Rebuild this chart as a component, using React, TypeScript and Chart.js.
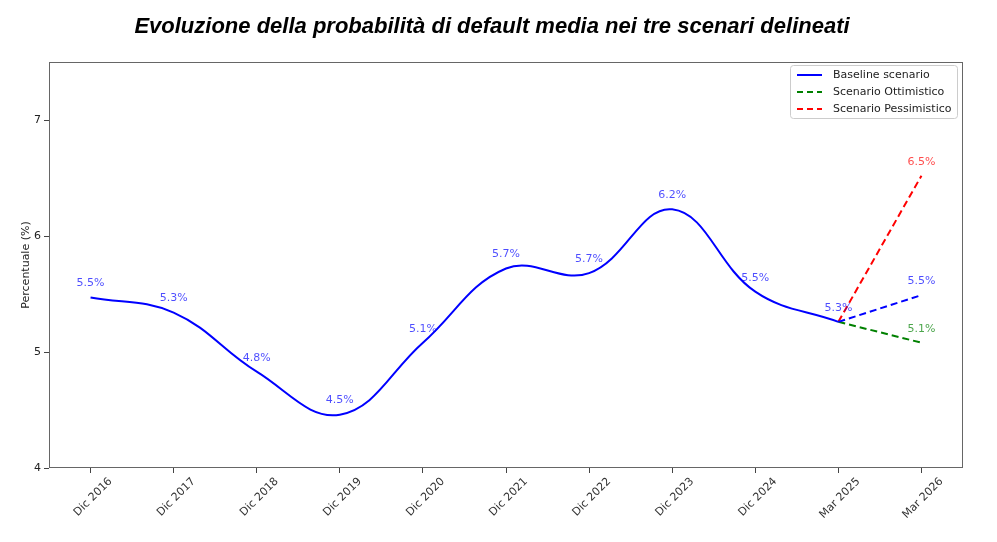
import React, { useEffect, useRef } from "react";
import { Chart, registerables } from "chart.js";

Chart.register(...registerables);

const categories = [
  "Dic 2016", "Dic 2017", "Dic 2018", "Dic 2019", "Dic 2020", "Dic 2021",
  "Dic 2022", "Dic 2023", "Dic 2024", "Mar 2025", "Mar 2026",
];
const baselineValues = [5.47, 5.34, 4.83, 4.46, 5.08, 5.72, 5.68, 6.23, 5.52, 5.26, null];
const baselineForecast = [null, null, null, null, null, null, null, null, null, 5.26, 5.49];
const optimisticValues = [null, null, null, null, null, null, null, null, null, 5.26, 5.08];
const pessimisticValues = [null, null, null, null, null, null, null, null, null, 5.26, 6.52];
const yTicks = [4, 5, 6, 7];
const titleText = "Evoluzione della probabilità di default media nei tre scenari delineati";
const yAxisTitle = "Percentuale (%)";
const legendItems = [
  { label: "Baseline scenario", color: "#0000ff", dash: [] as number[] },
  { label: "Scenario Ottimistico", color: "#008000", dash: [6, 4] },
  { label: "Scenario Pessimistico", color: "#ff0000", dash: [6, 4] },
];

const FONT = "'DejaVu Sans', sans-serif";

const framePlugin = {
  id: "frame",
  afterDraw(chart: any) {
    const { ctx, chartArea: a } = chart;
    ctx.save();
    ctx.strokeStyle = "#666";
    ctx.lineWidth = 1;
    ctx.strokeRect(a.left + 0.5, a.top + 0.5, a.right - a.left - 1, a.bottom - a.top - 1);
    ctx.restore();
  },
};

const titlePlugin = {
  id: "customTitle",
  afterDraw(chart: any) {
    const { ctx } = chart;
    ctx.save();
    ctx.fillStyle = "#000";
    ctx.font = "italic bold 22px 'Liberation Sans Narrow', 'Liberation Sans', sans-serif";
    ctx.textAlign = "center";
    ctx.textBaseline = "middle";
    ctx.fillText(titleText, 484, 19);
    ctx.restore();
  },
};

const dataLabelPlugin = {
  id: "dataLabels",
  afterDatasetsDraw(chart: any) {
    const { ctx } = chart;
    ctx.save();
    ctx.font = `11px ${FONT}`;
    ctx.textAlign = "center";
    ctx.textBaseline = "middle";
    chart.data.datasets.forEach((ds: any, di: number) => {
      const meta = chart.getDatasetMeta(di);
      ds.data.forEach((v: number | null, i: number) => {
        if (v === null) return;
        if (di > 0 && i !== ds.data.length - 1) return;
        const pt = meta.data[i];
        ctx.fillStyle = ds.labelColor;
        ctx.fillText(v.toFixed(1) + "%", pt.x, pt.y - 14);
      });
    });
    ctx.restore();
  },
};

const legendPlugin = {
  id: "customLegend",
  afterDraw(chart: any) {
    const { ctx, chartArea: a } = chart;
    const w = 167, h = 53;
    const left = a.right - 6 - w;
    const top = a.top + 3;
    ctx.save();
    ctx.fillStyle = "rgba(255,255,255,0.8)";
    ctx.strokeStyle = "#cccccc";
    ctx.lineWidth = 1;
    ctx.beginPath();
    (ctx as any).roundRect(left + 0.5, top + 0.5, w, h, 3);
    ctx.fill();
    ctx.stroke();
    ctx.font = `11px ${FONT}`;
    ctx.textBaseline = "middle";
    ctx.textAlign = "left";
    legendItems.forEach((it, i) => {
      const y = top + 10 + i * 17;
      ctx.strokeStyle = it.color;
      ctx.lineWidth = 2;
      ctx.setLineDash(it.dash);
      ctx.beginPath();
      ctx.moveTo(left + 7, y);
      ctx.lineTo(left + 32, y);
      ctx.stroke();
      ctx.setLineDash([]);
      ctx.fillStyle = "#222";
      ctx.fillText(it.label, left + 43, y);
    });
    ctx.restore();
  },
};

export default function App() {
  const ref = useRef<HTMLCanvasElement | null>(null);
  useEffect(() => {
    if (!ref.current) return;
    const chart = new Chart(ref.current, {
      type: "line",
      data: {
        labels: categories,
        datasets: [
          {
            label: "Baseline scenario",
            data: baselineValues,
            borderColor: "#0000ff",
            borderWidth: 2,
            pointRadius: 0,
            tension: 0.4,
            fill: false,
            labelColor: "rgba(0,0,255,0.7)",
          } as any,
          {
            label: "Baseline forecast",
            data: baselineForecast,
            borderColor: "#0000ff",
            borderWidth: 2,
            borderDash: [7, 4],
            pointRadius: 0,
            tension: 0,
            fill: false,
            labelColor: "rgba(0,0,255,0.7)",
          } as any,
          {
            label: "Scenario Ottimistico",
            data: optimisticValues,
            borderColor: "#008000",
            borderWidth: 2,
            borderDash: [7, 4],
            pointRadius: 0,
            tension: 0,
            fill: false,
            labelColor: "rgba(0,128,0,0.7)",
          } as any,
          {
            label: "Scenario Pessimistico",
            data: pessimisticValues,
            borderColor: "#ff0000",
            borderWidth: 2,
            borderDash: [7, 4],
            pointRadius: 0,
            tension: 0,
            fill: false,
            labelColor: "rgba(255,0,0,0.7)",
          } as any,
        ],
      },
      options: {
        animation: false,
        responsive: true,
        maintainAspectRatio: false,
        layout: { padding: { top: 54, right: 26, left: 0, bottom: 0 } },
        plugins: {
          legend: { display: false },
          title: { display: false },
          tooltip: { enabled: false },
        },
        scales: {
          x: {
            type: "category",
            offset: true,
            grid: {
              display: true,
              drawOnChartArea: false,
              drawTicks: true,
              tickLength: 5,
              tickColor: "#444",
              offset: false,
            },
            border: { display: false },
            ticks: {
              autoSkip: false,
              maxRotation: 45,
              minRotation: 45,
              labelOffset: 20,
              padding: 2,
              color: "#333",
              font: { family: FONT, size: 11 },
            },
            afterFit: (s: any) => {
              s.height = 66;
            },
          },
          y: {
            min: 4,
            max: 7.5,
            grid: {
              display: true,
              drawOnChartArea: false,
              drawTicks: true,
              tickLength: 5,
              tickColor: "#444",
            },
            border: { display: false },
            afterBuildTicks: (s: any) => {
              s.ticks = yTicks.map((v) => ({ value: v }));
            },
            ticks: {
              padding: 3,
              color: "#222",
              font: { family: FONT, size: 11 },
              callback: (v: any) => String(v),
            },
            title: {
              display: true,
              text: yAxisTitle,
              color: "#222",
              font: { family: FONT, size: 11 },
              padding: { top: 12, bottom: 0 },
            },
            afterFit: (s: any) => {
              s.width = 41;
            },
          },
        },
      } as any,
      plugins: [framePlugin, titlePlugin, dataLabelPlugin, legendPlugin],
    });
    return () => chart.destroy();
  }, []);
  return (
    <div style={{ position: "relative", width: 981, height: 526 }}>
      <canvas ref={ref} />
    </div>
  );
}
